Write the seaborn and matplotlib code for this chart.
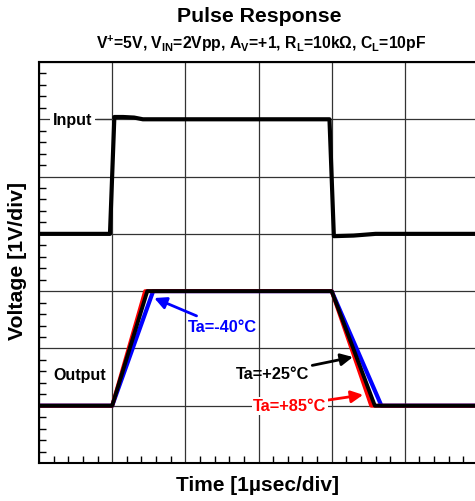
import matplotlib
matplotlib.use("Agg")
import matplotlib.pyplot as plt
from matplotlib.ticker import MultipleLocator, NullFormatter
import seaborn as sns

# values in divisions (x: 1 usec/div, y: 1 V/div, 0 = bottom of screen)
input_t = [0.0, 0.97, 1.03, 1.15, 1.30, 1.42, 3.97, 4.03, 4.30, 4.60, 6.0]
input_v = [4.0, 4.0, 6.04, 6.04, 6.03, 6.0, 6.0, 3.96, 3.97, 4.0, 4.0]

out_t_m40 = [0.0, 1.0, 1.56, 4.0, 4.68, 6.0]
out_v_m40 = [1.0, 1.0, 3.0, 3.0, 1.0, 1.0]
out_t_25 = [0.0, 1.0, 1.48, 4.0, 4.59, 6.0]
out_v_25 = [1.0, 1.0, 3.0, 3.0, 1.0, 1.0]
out_t_85 = [0.0, 1.0, 1.45, 4.0, 4.54, 6.0]
out_v_85 = [1.0, 1.0, 3.0, 3.0, 1.0, 1.0]

sns.set_style("white")
plt.rcParams["font.family"] = ["Liberation Sans", "DejaVu Sans"]
plt.rcParams["font.weight"] = "bold"
plt.rcParams["text.color"] = "black"
plt.rcParams["mathtext.fontset"] = "custom"
plt.rcParams["mathtext.default"] = "bf"
plt.rcParams["mathtext.bf"] = "Liberation Sans:bold"
plt.rcParams["mathtext.rm"] = "Liberation Sans:bold"

fig = plt.figure(figsize=(4.75, 5.02), dpi=100)
ax = fig.add_axes([39 / 475, 1 - 464 / 502, 439 / 475, 401 / 502])

sns.lineplot(x=out_t_m40, y=out_v_m40, sort=False, color="#0000ff", lw=3.0, ax=ax)
sns.lineplot(x=out_t_85, y=out_v_85, sort=False, color="#ff0000", lw=2.8, ax=ax)
sns.lineplot(x=out_t_25, y=out_v_25, sort=False, color="black", lw=2.8, ax=ax)
sns.lineplot(x=input_t, y=input_v, sort=False, color="black", lw=3.0, ax=ax)

ax.set_xlim(0, 6)
ax.set_ylim(0, 7)
ax.xaxis.set_major_locator(MultipleLocator(1))
ax.yaxis.set_major_locator(MultipleLocator(1))
ax.xaxis.set_minor_locator(MultipleLocator(0.2))
ax.yaxis.set_minor_locator(MultipleLocator(0.2))
ax.xaxis.set_major_formatter(NullFormatter())
ax.yaxis.set_major_formatter(NullFormatter())
ax.tick_params(which="major", length=0)
ax.tick_params(which="minor", direction="in", length=5, width=1, color="black",
               left=True, bottom=True, right=False, top=False)
ax.grid(True, which="major", color="#333333", lw=0.9)
ax.set_axisbelow(True)
for s in ax.spines.values():
    s.set_color("black")
    s.set_linewidth(1.5)

# labels on the trace
ax.text(0.455, 6.0, "Input", fontsize=11.5, fontweight="bold", va="center", ha="center",
        bbox=dict(facecolor="white", edgecolor="none", pad=1.8), zorder=3)
ax.plot([0.78, 1.0], [6.0, 6.0], color="#333333", lw=0.9, zorder=3)
ax.text(0.19, 1.54, "Output", fontsize=11.5, fontweight="bold", va="center", ha="left")

ax.annotate("Ta=-40°C", xy=(1.575, 2.88), xytext=(2.03, 2.38),
            color="#0000ff", fontsize=11.8, fontweight="bold", va="center", ha="left",
            arrowprops=dict(arrowstyle="-|>", color="#0000ff", lw=2, mutation_scale=18,
                            shrinkA=0, shrinkB=0))
ax.annotate("Ta=+25°C", xy=(4.29, 1.85), xytext=(3.69, 1.56),
            color="black", fontsize=11.8, fontweight="bold", va="center", ha="right",
            arrowprops=dict(arrowstyle="-|>", color="black", lw=2, mutation_scale=18,
                            shrinkA=0, shrinkB=0))
ax.annotate("Ta=+85°C", xy=(4.43, 1.19), xytext=(3.93, 1.0),
            color="#ff0000", fontsize=11.8, fontweight="bold", va="center", ha="right",
            bbox=dict(facecolor="white", edgecolor="none", pad=1),
            arrowprops=dict(arrowstyle="-|>", color="#ff0000", lw=2, mutation_scale=18,
                            shrinkA=0, shrinkB=0))

fig.text(259 / 475, 1 - 16 / 502, "Pulse Response", fontsize=15.3, fontweight="bold",
         ha="center", va="center")
fig.text(261 / 475, 1 - 44 / 502,
         "V$^{+}$=5V, V$_{IN}$=2Vpp, A$_{V}$=+1, R$_{L}$=10kΩ, C$_{L}$=10pF",
         fontsize=11.3, fontweight="bold", ha="center", va="center")
fig.text(18 / 475, 1 - 261 / 502, "Voltage [1V/div]", fontsize=15.3, fontweight="bold",
         rotation=90, ha="center", va="center")
fig.text(258 / 475, 1 - 486 / 502, "Time [1µsec/div]", fontsize=15, fontweight="bold",
         ha="center", va="center")

fig.savefig("out.png", dpi=100)
